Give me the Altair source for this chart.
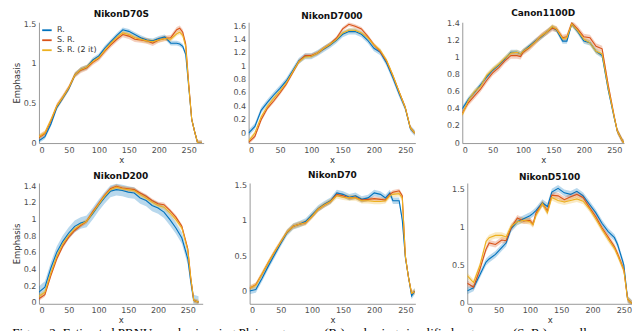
import altair as alt
import pandas as pd

SERIES = ["R.", "S. R.", "S. R. (2 it)"]
COLORS = ["#0072BD", "#D95319", "#EDB120"]

# ---- NikonD70S
d70s_x = [0,10,20,30,40,50,60,70,80,90,100,110,120,130,140,150,160,170,180,190,200,210,220,230,235,240,245,250,255,260,265,272]
d70s_r = [0.03,0.08,0.24,0.45,0.57,0.69,0.86,0.93,0.96,1.05,1.10,1.20,1.28,1.36,1.43,1.41,1.37,1.33,1.30,1.29,1.32,1.34,1.26,1.26,1.25,1.22,1.12,0.71,0.30,0.14,0.0,0.0]
d70s_s = [0.07,0.12,0.28,0.47,0.58,0.70,0.86,0.92,0.95,1.02,1.07,1.16,1.24,1.31,1.37,1.35,1.31,1.30,1.29,1.26,1.30,1.32,1.33,1.43,1.45,1.40,1.25,0.75,0.30,0.14,0.0,0.0]
d70s_s2 = [0.08,0.13,0.29,0.47,0.58,0.70,0.86,0.93,0.96,1.03,1.08,1.17,1.26,1.33,1.39,1.37,1.33,1.31,1.29,1.28,1.30,1.32,1.31,1.38,1.40,1.36,1.22,0.73,0.30,0.14,0.0,0.0]
d70s_hw = [0.03, 0.035, 0.03]

# ---- NikonD7000
d7000_x = [0,10,20,30,40,50,60,70,80,90,100,110,120,130,140,150,160,170,180,190,200,210,220,230,240,250,258,265]
d7000_r = [0.0,0.10,0.34,0.46,0.57,0.67,0.78,0.93,1.08,1.15,1.15,1.20,1.26,1.32,1.39,1.48,1.52,1.52,1.48,1.39,1.27,1.21,1.05,0.83,0.59,0.37,0.07,0.0]
d7000_s = [-0.14,-0.05,0.20,0.37,0.48,0.60,0.73,0.90,1.07,1.16,1.16,1.20,1.27,1.33,1.42,1.56,1.63,1.60,1.56,1.45,1.32,1.22,1.08,0.86,0.62,0.38,0.08,0.0]
d7000_s2 = [-0.12,0.0,0.24,0.40,0.52,0.63,0.75,0.91,1.07,1.14,1.15,1.20,1.27,1.33,1.40,1.50,1.54,1.54,1.50,1.43,1.32,1.24,1.09,0.87,0.62,0.38,0.08,0.0]
d7000_hw = [0.045, 0.03, 0.03]

# ---- Canon1100D
c1100_x = [0,10,20,30,40,50,60,70,80,90,96,100,110,120,130,140,148,155,165,172,180,190,200,210,220,230,240,250,255,263,266]
c1100_r = [0.40,0.51,0.59,0.68,0.77,0.85,0.91,0.98,1.06,1.06,1.04,1.07,1.13,1.19,1.24,1.30,1.35,1.32,1.19,1.19,1.39,1.30,1.19,1.17,1.07,1.02,0.62,0.29,0.14,0.03,0.0]
c1100_s = [0.35,0.47,0.55,0.63,0.73,0.82,0.88,0.96,1.02,1.02,1.01,1.06,1.11,1.18,1.25,1.30,1.34,1.33,1.23,1.24,1.40,1.33,1.24,1.23,1.13,1.10,0.68,0.31,0.14,0.03,0.0]
c1100_s2 = [0.33,0.50,0.60,0.66,0.79,0.86,0.92,0.99,1.05,1.06,1.04,1.07,1.12,1.18,1.25,1.30,1.36,1.33,1.22,1.23,1.39,1.31,1.21,1.17,1.07,1.04,0.64,0.30,0.14,0.03,0.0]
c1100_hw = [0.03, 0.035, 0.03]

# ---- NikonD200
d200_x = [0,10,20,30,40,50,60,70,80,90,100,110,120,130,140,150,160,170,180,190,200,210,220,230,240,250,255,260,268]
d200_r = [0.13,0.19,0.42,0.61,0.74,0.84,0.92,0.96,0.98,1.07,1.17,1.26,1.34,1.36,1.35,1.33,1.32,1.26,1.23,1.17,1.14,1.09,1.00,0.90,0.78,0.53,0.26,0.03,0.01]
d200_s = [0.05,0.10,0.33,0.53,0.68,0.79,0.87,0.93,0.98,1.09,1.19,1.29,1.37,1.40,1.38,1.37,1.36,1.32,1.28,1.23,1.19,1.18,1.11,1.03,0.92,0.65,0.30,0.03,0.01]
d200_s2 = [0.08,0.13,0.36,0.56,0.71,0.81,0.89,0.94,0.98,1.08,1.18,1.28,1.36,1.39,1.37,1.36,1.35,1.30,1.26,1.21,1.17,1.15,1.08,1.00,0.90,0.63,0.30,0.03,0.01]
d200_hw = [0.07, 0.025, 0.03]

# ---- NikonD70
d70_x = [0,10,20,30,40,50,60,70,80,90,100,110,120,130,140,150,160,170,180,190,200,210,218,225,230,240,245,250,255,260,265]
d70_r = [0.01,0.03,0.19,0.36,0.52,0.68,0.83,0.92,0.95,0.99,1.08,1.17,1.23,1.28,1.39,1.37,1.33,1.35,1.30,1.32,1.39,1.37,1.32,1.39,1.28,1.28,1.01,0.48,0.21,-0.06,0.01]
d70_s = [0.05,0.10,0.25,0.41,0.56,0.70,0.84,0.92,0.95,0.97,1.06,1.16,1.22,1.27,1.37,1.35,1.32,1.33,1.29,1.30,1.31,1.30,1.29,1.37,1.40,1.42,1.35,0.50,0.20,-0.02,0.0]
d70_s2 = [0.05,0.09,0.25,0.41,0.56,0.70,0.84,0.92,0.95,0.97,1.06,1.16,1.22,1.27,1.35,1.33,1.32,1.32,1.28,1.28,1.27,1.27,1.28,1.35,1.37,1.38,1.32,0.50,0.20,-0.02,0.0]
d70_hw = [0.045, 0.03, 0.04]

# ---- NikonD5100
d5100_x = [0,10,20,30,35,45,55,62,70,80,90,100,105,110,120,128,135,145,155,165,175,185,195,205,215,225,235,240,250,256,263]
d5100_r = [0.17,0.21,0.38,0.55,0.59,0.65,0.74,0.80,0.99,1.08,1.12,1.16,1.19,1.23,1.33,1.28,1.47,1.52,1.46,1.44,1.48,1.42,1.31,1.20,1.06,0.95,0.87,0.78,0.51,0.06,0.0]
d5100_s = [0.27,0.22,0.45,0.72,0.80,0.78,0.84,0.83,1.00,1.13,1.09,1.10,1.05,1.20,1.32,1.22,1.43,1.42,1.37,1.41,1.44,1.40,1.27,1.15,1.00,0.88,0.75,0.66,0.45,0.06,0.0]
d5100_s2 = [0.37,0.28,0.50,0.82,0.87,0.90,0.90,0.88,1.02,1.08,1.10,1.08,1.04,1.17,1.32,1.20,1.40,1.36,1.34,1.36,1.38,1.35,1.25,1.12,0.98,0.85,0.73,0.64,0.44,0.06,0.0]
d5100_hw = [0.045, 0.04, 0.04]

XTICKS = [0, 50, 100, 150, 200, 250]
CAPTION = ("Figure 2: Estimated PRNU emphasis using Plain regressors (R.) and using "
           "simplified regressors (S. R.) as well as using different")

FONT = "DejaVu Sans"
cscale = alt.Scale(domain=SERIES, range=COLORS)
H = 121


def panel(name, xs, series_vals, hws, ydom, yticks, xmax, ytitle, legend, w=165):
    rows = []
    for s, vals, hw in zip(SERIES, series_vals, hws):
        for x, y in zip(xs, vals):
            rows.append({"series": s, "x": x, "y": y, "lo": y - hw, "hi": y + hw})
    df = pd.DataFrame(rows)
    xenc = alt.X("x:Q", scale=alt.Scale(domain=[0, xmax], nice=False, zero=False),
                 axis=alt.Axis(values=XTICKS, title="x"))
    yscale = alt.Scale(domain=ydom, nice=False, zero=False)
    yaxis = alt.Axis(values=yticks, format="~g", title=ytitle if ytitle else None)
    if legend:
        leg = alt.Legend(title=None, orient="top-left", offset=2, symbolType="stroke",
                         symbolStrokeWidth=1.8, symbolSize=90, symbolOpacity=1, labelFontSize=8,
                         labelFont=FONT, labelColor="#333333", rowPadding=0, padding=0)
    else:
        leg = None
    band = alt.Chart(df).mark_area(opacity=0.28, clip=True).encode(
        x=xenc,
        y=alt.Y("lo:Q", scale=yscale, axis=yaxis),
        y2="hi:Q",
        color=alt.Color("series:N", scale=cscale, legend=leg),
        detail="series:N",
    )
    line = alt.Chart(df).mark_line(strokeWidth=1.1, clip=True).encode(
        x=xenc,
        y=alt.Y("y:Q", scale=yscale, axis=yaxis),
        color=alt.Color("series:N", scale=cscale, legend=leg),
        detail="series:N",
    )
    return alt.layer(band, line).properties(width=w, height=H, title=name)


p1 = panel("NikonD70S", d70s_x, [d70s_r, d70s_s, d70s_s2], d70s_hw, [0, 1.525], [0, 0.5, 1, 1.5], 275, "Emphasis", True)
p2 = panel("NikonD7000", d7000_x, [d7000_r, d7000_s, d7000_s2], d7000_hw, [-0.15, 1.66], [0, 0.2, 0.4, 0.6, 0.8, 1, 1.2, 1.4, 1.6], 266, None, False, 167)
p3 = panel("Canon1100D", c1100_x, [c1100_r, c1100_s, c1100_s2], c1100_hw, [0, 1.41], [0, 0.2, 0.4, 0.6, 0.8, 1, 1.2, 1.4], 266, None, False, 162)
p4 = panel("NikonD200", d200_x, [d200_r, d200_s, d200_s2], d200_hw, [-0.01, 1.44], [0, 0.2, 0.4, 0.6, 0.8, 1, 1.2, 1.4], 275, "Emphasis", False, 164)
p5 = panel("NikonD70", d70_x, [d70_r, d70_s, d70_s2], d70_hw, [-0.17, 1.53], [0, 0.5, 1, 1.5], 266, None, False, 166)
p6 = panel("NikonD5100", d5100_x, [d5100_r, d5100_s, d5100_s2], d5100_hw, [0, 1.59], [0, 0.5, 1, 1.5], 263, None, False, 165)

row1 = alt.hconcat(
    alt.hconcat(p1, p2, spacing=29).resolve_legend(color="independent"), p3, spacing=31
).resolve_legend(color="independent")
row2 = alt.hconcat(
    alt.hconcat(p4, p5, spacing=31).resolve_legend(color="independent"), p6, spacing=36
).resolve_legend(color="independent")

chart = alt.vconcat(row1, row2, spacing=7).properties(
    title=alt.TitleParams(CAPTION, orient="bottom", anchor="start", font="Liberation Serif",
                          fontSize=13, fontWeight="normal", color="#000000", offset=3, limit=620),
    padding={"left": 4, "top": 0, "right": 0, "bottom": 0},
).resolve_legend(color="independent").configure_view(stroke=None).configure_axis(
    labelFont=FONT, titleFont=FONT, labelFontSize=8, titleFontSize=8.5, titleFontWeight="normal",
    labelColor="#4d4d4d", titleColor="#333333", domainColor="#7f7f7f", domainWidth=0.8,
    ticks=False, labelPadding=3, titlePadding=2, grid=False,
).configure_axisX(titlePadding=1).configure_title(
    font=FONT, fontSize=9, fontWeight="bold", color="#111111", offset=1
)

chart.save("out.html", embed_options={"renderer": "svg", "actions": False})
